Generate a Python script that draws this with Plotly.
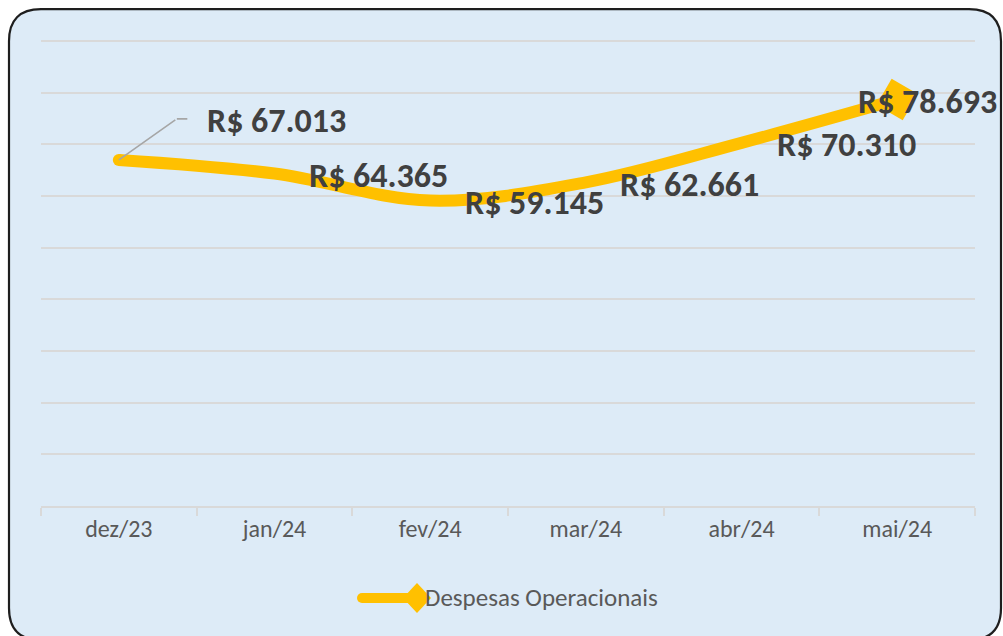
import plotly.graph_objects as go

# ---- data ----
categories = ["dez/23", "jan/24", "fev/24", "mar/24", "abr/24", "mai/24"]
values = [67013, 64365, 59145, 62661, 70310, 78693]
series_name = "Despesas Operacionais"
y_max, y_step = 90000, 10000

def brl(v):
    return "R$ " + f"{v:,}".replace(",", ".")

labels = [brl(v) for v in values]

# ---- styling / geometry (reference pixel coords) ----
W, H = 1003, 636
L, R, T, B = 41, 975, 41, 506  # plot area in pixels
PPU = (B - T) / y_max          # pixels per unit
y_top = y_max + 1000           # a little headroom so the top gridline is drawn
T_plot = B - y_top * PPU
GOLD = "#FFC000"
FONT = "Carlito, Calibri, Lato, sans-serif"

def px(x):
    return (x - L) / (R - L)

def py(y):
    return (B - y) / (B - T_plot)

fig = go.Figure()

fig.add_trace(go.Scatter(
    x=categories, y=values, mode="lines",
    line=dict(color=GOLD, width=12, shape="spline", smoothing=1.0),
    showlegend=False, hoverinfo="skip",
))
# end diamond on the last point
fig.add_trace(go.Scatter(
    x=categories[-1:], y=values[-1:], mode="markers",
    marker=dict(symbol="diamond", size=33, color=GOLD, angle=-15,
                line=dict(width=0)),
    showlegend=False, hoverinfo="skip",
))
# round cap at the start of the line
fig.add_trace(go.Scatter(
    x=categories[:1], y=values[:1], mode="markers",
    marker=dict(symbol="circle", size=12, color=GOLD, line=dict(width=0)),
    showlegend=False, hoverinfo="skip",
))

# label offsets (pixels) per point
label_dx = [None, 32, 33, 32, 33, -41]
label_dy = [0, -2, -2, -2, -2, -2]
LBL = dict(family=FONT, size=34, color="#404040")

ann = []
for i, (c, v, t) in enumerate(zip(categories, values, labels)):
    if i == 0:
        # leader line (two segments)
        ann.append(dict(x=c, y=v, xref="x", yref="y", text="", showarrow=True,
                        arrowhead=0, arrowwidth=1.6, arrowcolor="#A6A6A6",
                        ax=58, ay=-41, axref="pixel", ayref="pixel"))
        ann.append(dict(x=c, y=v, xref="x", yref="y", text="", showarrow=True,
                        arrowhead=0, arrowwidth=1.6, arrowcolor="#A6A6A6",
                        xshift=58, yshift=41, ax=12, ay=0))
        ann.append(dict(x=c, y=v, xref="x", yref="y", text="<b>" + t + "</b>",
                        showarrow=False, xanchor="left", yanchor="middle",
                        xshift=86, yshift=39, font=LBL))
    else:
        ann.append(dict(x=c, y=v, xref="x", yref="y", text="<b>" + t + "</b>",
                        showarrow=False, xanchor="left", yanchor="middle",
                        xshift=label_dx[i], yshift=label_dy[i], font=LBL))

# legend text
ann.append(dict(x=px(423), y=py(598), xref="paper", yref="paper",
                text=series_name, showarrow=False, xanchor="left",
                yanchor="middle",
                font=dict(family=FONT, size=25, color="#595959")))

# rounded background panel
x0, y0, x1, y1, r = 9, 9, 1001, 640, 32
path = (
    f"M {px(x0 + r)},{py(y0)} L {px(x1 - r)},{py(y0)} "
    f"Q {px(x1)},{py(y0)} {px(x1)},{py(y0 + r)} "
    f"L {px(x1)},{py(y1 - r)} Q {px(x1)},{py(y1)} {px(x1 - r)},{py(y1)} "
    f"L {px(x0 + r)},{py(y1)} Q {px(x0)},{py(y1)} {px(x0)},{py(y1 - r)} "
    f"L {px(x0)},{py(y0 + r)} Q {px(x0)},{py(y0)} {px(x0 + r)},{py(y0)} Z"
)
shapes = [dict(type="path", path=path, xref="paper", yref="paper",
               fillcolor="#DDEBF7", line=dict(color="#1E1E1E", width=2.2),
               layer="below")]

# legend glyph
shapes.append(dict(type="line", xref="paper", yref="paper",
                   x0=px(362), x1=px(416), y0=py(598), y1=py(598),
                   line=dict(color=GOLD, width=10)))
shapes.append(dict(type="circle", xref="paper", yref="paper",
                   x0=px(357), x1=px(367), y0=py(603), y1=py(593),
                   fillcolor=GOLD, line=dict(width=0)))
dcx, dcy = 417, 598
shapes.append(dict(type="path", xref="paper", yref="paper",
                   path=(f"M {px(dcx - 14)},{py(dcy)} L {px(dcx)},{py(dcy - 15)} "
                         f"L {px(dcx + 14)},{py(dcy)} L {px(dcx)},{py(dcy + 15)} Z"),
                   fillcolor=GOLD, line=dict(width=0)))

fig.update_layout(
    width=W, height=H,
    margin=dict(l=L, r=W - R, t=T_plot, b=H - B, pad=0, autoexpand=False),
    paper_bgcolor="white", plot_bgcolor="rgba(0,0,0,0)",
    showlegend=False,
    annotations=ann, shapes=shapes,
    xaxis=dict(
        type="category", range=[-0.5, 5.5], showgrid=False,
        showline=True, linecolor="#D9D9D9", linewidth=2,
        ticks="outside", tickson="boundaries", ticklen=8,
        tickcolor="#D9D9D9", tickwidth=2,
        tickfont=dict(family=FONT, size=24, color="#595959"),
        fixedrange=True,
    ),
    yaxis=dict(
        range=[0, y_top], dtick=y_step, tick0=0,
        showgrid=True, gridcolor="#D9D9D9", gridwidth=2,
        showticklabels=False, zeroline=False, showline=False,
        fixedrange=True,
    ),
)

fig.write_html(
    "out.html",
    config={"displayModeBar": False, "staticPlot": True},
    post_script="document.body.style.margin='0';"
                "document.documentElement.style.overflow='hidden';",
)
